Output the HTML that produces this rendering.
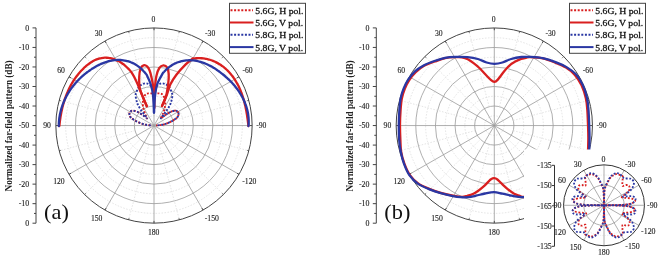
<!DOCTYPE html>
<html><head><meta charset="utf-8"><style>html,body{margin:0;padding:0;background:#fff;overflow:hidden}svg{display:block;will-change:transform}</style></head>
<body><svg width="660" height="258" viewBox="0 0 660 258">
<rect width="660" height="258" fill="#fff"/>
<line x1="36.00" y1="27.90" x2="36.00" y2="223.20" stroke="#444" stroke-width="1"/>
<line x1="32.50" y1="27.90" x2="36.00" y2="27.90" stroke="#444" stroke-width="1"/>
<text x="29.20" y="30.59" font-size="7.9" text-anchor="end" fill="#222" stroke="#222" stroke-width="0.12" font-family="Liberation Serif">0</text>
<line x1="34.00" y1="37.66" x2="36.00" y2="37.66" stroke="#444" stroke-width="1"/>
<line x1="32.50" y1="47.43" x2="36.00" y2="47.43" stroke="#444" stroke-width="1"/>
<text x="29.20" y="50.12" font-size="7.9" text-anchor="end" fill="#222" stroke="#222" stroke-width="0.12" font-family="Liberation Serif">-10</text>
<line x1="34.00" y1="57.19" x2="36.00" y2="57.19" stroke="#444" stroke-width="1"/>
<line x1="32.50" y1="66.96" x2="36.00" y2="66.96" stroke="#444" stroke-width="1"/>
<text x="29.20" y="69.65" font-size="7.9" text-anchor="end" fill="#222" stroke="#222" stroke-width="0.12" font-family="Liberation Serif">-20</text>
<line x1="34.00" y1="76.72" x2="36.00" y2="76.72" stroke="#444" stroke-width="1"/>
<line x1="32.50" y1="86.49" x2="36.00" y2="86.49" stroke="#444" stroke-width="1"/>
<text x="29.20" y="89.18" font-size="7.9" text-anchor="end" fill="#222" stroke="#222" stroke-width="0.12" font-family="Liberation Serif">-30</text>
<line x1="34.00" y1="96.25" x2="36.00" y2="96.25" stroke="#444" stroke-width="1"/>
<line x1="32.50" y1="106.02" x2="36.00" y2="106.02" stroke="#444" stroke-width="1"/>
<text x="29.20" y="108.71" font-size="7.9" text-anchor="end" fill="#222" stroke="#222" stroke-width="0.12" font-family="Liberation Serif">-40</text>
<line x1="34.00" y1="115.78" x2="36.00" y2="115.78" stroke="#444" stroke-width="1"/>
<line x1="32.50" y1="125.55" x2="36.00" y2="125.55" stroke="#444" stroke-width="1"/>
<text x="29.20" y="128.24" font-size="7.9" text-anchor="end" fill="#222" stroke="#222" stroke-width="0.12" font-family="Liberation Serif">-50</text>
<line x1="34.00" y1="135.31" x2="36.00" y2="135.31" stroke="#444" stroke-width="1"/>
<line x1="32.50" y1="145.08" x2="36.00" y2="145.08" stroke="#444" stroke-width="1"/>
<text x="29.20" y="147.77" font-size="7.9" text-anchor="end" fill="#222" stroke="#222" stroke-width="0.12" font-family="Liberation Serif">-40</text>
<line x1="34.00" y1="154.84" x2="36.00" y2="154.84" stroke="#444" stroke-width="1"/>
<line x1="32.50" y1="164.61" x2="36.00" y2="164.61" stroke="#444" stroke-width="1"/>
<text x="29.20" y="167.30" font-size="7.9" text-anchor="end" fill="#222" stroke="#222" stroke-width="0.12" font-family="Liberation Serif">-30</text>
<line x1="34.00" y1="174.37" x2="36.00" y2="174.37" stroke="#444" stroke-width="1"/>
<line x1="32.50" y1="184.14" x2="36.00" y2="184.14" stroke="#444" stroke-width="1"/>
<text x="29.20" y="186.83" font-size="7.9" text-anchor="end" fill="#222" stroke="#222" stroke-width="0.12" font-family="Liberation Serif">-20</text>
<line x1="34.00" y1="193.90" x2="36.00" y2="193.90" stroke="#444" stroke-width="1"/>
<line x1="32.50" y1="203.67" x2="36.00" y2="203.67" stroke="#444" stroke-width="1"/>
<text x="29.20" y="206.36" font-size="7.9" text-anchor="end" fill="#222" stroke="#222" stroke-width="0.12" font-family="Liberation Serif">-10</text>
<line x1="34.00" y1="213.43" x2="36.00" y2="213.43" stroke="#444" stroke-width="1"/>
<line x1="32.50" y1="223.20" x2="36.00" y2="223.20" stroke="#444" stroke-width="1"/>
<text x="29.20" y="225.89" font-size="7.9" text-anchor="end" fill="#222" stroke="#222" stroke-width="0.12" font-family="Liberation Serif">0</text>
<text transform="translate(12.20,125.90) rotate(-90) scale(0.93,1)" font-size="9.9" font-weight="bold" text-anchor="middle" fill="#222" font-family="Liberation Serif">Normalized far-field pattern (dB)</text>
<g transform="translate(154.00,125.55) scale(1,0.99440)">
<circle r="9.82" fill="none" stroke="#d8d8d8" stroke-width="0.7" stroke-dasharray="1.5,1.5" vector-effect="non-scaling-stroke"/>
<circle r="19.63" fill="none" stroke="#9a9a9a" stroke-width="0.8" vector-effect="non-scaling-stroke"/>
<circle r="29.45" fill="none" stroke="#d8d8d8" stroke-width="0.7" stroke-dasharray="1.5,1.5" vector-effect="non-scaling-stroke"/>
<circle r="39.26" fill="none" stroke="#9a9a9a" stroke-width="0.8" vector-effect="non-scaling-stroke"/>
<circle r="49.08" fill="none" stroke="#d8d8d8" stroke-width="0.7" stroke-dasharray="1.5,1.5" vector-effect="non-scaling-stroke"/>
<circle r="58.89" fill="none" stroke="#9a9a9a" stroke-width="0.8" vector-effect="non-scaling-stroke"/>
<circle r="68.71" fill="none" stroke="#d8d8d8" stroke-width="0.7" stroke-dasharray="1.5,1.5" vector-effect="non-scaling-stroke"/>
<circle r="78.52" fill="none" stroke="#9a9a9a" stroke-width="0.8" vector-effect="non-scaling-stroke"/>
<circle r="88.34" fill="none" stroke="#d8d8d8" stroke-width="0.7" stroke-dasharray="1.5,1.5" vector-effect="non-scaling-stroke"/>
<line x1="0" y1="0" x2="0.00" y2="-98.15" stroke="#9a9a9a" stroke-width="0.8" vector-effect="non-scaling-stroke"/>
<line x1="-5.08" y1="-18.96" x2="-25.40" y2="-94.81" stroke="#d8d8d8" stroke-width="0.7" stroke-dasharray="1.5,1.5" vector-effect="non-scaling-stroke"/>
<line x1="0" y1="0" x2="-49.07" y2="-85.00" stroke="#9a9a9a" stroke-width="0.8" vector-effect="non-scaling-stroke"/>
<line x1="-13.88" y1="-13.88" x2="-69.40" y2="-69.40" stroke="#d8d8d8" stroke-width="0.7" stroke-dasharray="1.5,1.5" vector-effect="non-scaling-stroke"/>
<line x1="0" y1="0" x2="-85.00" y2="-49.08" stroke="#9a9a9a" stroke-width="0.8" vector-effect="non-scaling-stroke"/>
<line x1="-18.96" y1="-5.08" x2="-94.81" y2="-25.40" stroke="#d8d8d8" stroke-width="0.7" stroke-dasharray="1.5,1.5" vector-effect="non-scaling-stroke"/>
<line x1="0" y1="0" x2="-98.15" y2="-0.00" stroke="#9a9a9a" stroke-width="0.8" vector-effect="non-scaling-stroke"/>
<line x1="-18.96" y1="5.08" x2="-94.81" y2="25.40" stroke="#d8d8d8" stroke-width="0.7" stroke-dasharray="1.5,1.5" vector-effect="non-scaling-stroke"/>
<line x1="0" y1="0" x2="-85.00" y2="49.07" stroke="#9a9a9a" stroke-width="0.8" vector-effect="non-scaling-stroke"/>
<line x1="-13.88" y1="13.88" x2="-69.40" y2="69.40" stroke="#d8d8d8" stroke-width="0.7" stroke-dasharray="1.5,1.5" vector-effect="non-scaling-stroke"/>
<line x1="0" y1="0" x2="-49.07" y2="85.00" stroke="#9a9a9a" stroke-width="0.8" vector-effect="non-scaling-stroke"/>
<line x1="-5.08" y1="18.96" x2="-25.40" y2="94.81" stroke="#d8d8d8" stroke-width="0.7" stroke-dasharray="1.5,1.5" vector-effect="non-scaling-stroke"/>
<line x1="0" y1="0" x2="-0.00" y2="98.15" stroke="#9a9a9a" stroke-width="0.8" vector-effect="non-scaling-stroke"/>
<line x1="5.08" y1="18.96" x2="25.40" y2="94.81" stroke="#d8d8d8" stroke-width="0.7" stroke-dasharray="1.5,1.5" vector-effect="non-scaling-stroke"/>
<line x1="0" y1="0" x2="49.08" y2="85.00" stroke="#9a9a9a" stroke-width="0.8" vector-effect="non-scaling-stroke"/>
<line x1="13.88" y1="13.88" x2="69.40" y2="69.40" stroke="#d8d8d8" stroke-width="0.7" stroke-dasharray="1.5,1.5" vector-effect="non-scaling-stroke"/>
<line x1="0" y1="0" x2="85.00" y2="49.08" stroke="#9a9a9a" stroke-width="0.8" vector-effect="non-scaling-stroke"/>
<line x1="18.96" y1="5.08" x2="94.81" y2="25.40" stroke="#d8d8d8" stroke-width="0.7" stroke-dasharray="1.5,1.5" vector-effect="non-scaling-stroke"/>
<line x1="0" y1="0" x2="98.15" y2="0.00" stroke="#9a9a9a" stroke-width="0.8" vector-effect="non-scaling-stroke"/>
<line x1="18.96" y1="-5.08" x2="94.81" y2="-25.40" stroke="#d8d8d8" stroke-width="0.7" stroke-dasharray="1.5,1.5" vector-effect="non-scaling-stroke"/>
<line x1="0" y1="0" x2="85.00" y2="-49.08" stroke="#9a9a9a" stroke-width="0.8" vector-effect="non-scaling-stroke"/>
<line x1="13.88" y1="-13.88" x2="69.40" y2="-69.40" stroke="#d8d8d8" stroke-width="0.7" stroke-dasharray="1.5,1.5" vector-effect="non-scaling-stroke"/>
<line x1="0" y1="0" x2="49.08" y2="-85.00" stroke="#9a9a9a" stroke-width="0.8" vector-effect="non-scaling-stroke"/>
<line x1="5.08" y1="-18.96" x2="25.40" y2="-94.81" stroke="#d8d8d8" stroke-width="0.7" stroke-dasharray="1.5,1.5" vector-effect="non-scaling-stroke"/>
<circle r="98.15" fill="none" stroke="#444" stroke-width="1" vector-effect="non-scaling-stroke"/>
<line x1="0.00" y1="-98.15" x2="0.00" y2="-95.85" stroke="#444" stroke-width="0.9" vector-effect="non-scaling-stroke"/>
<line x1="-25.40" y1="-94.81" x2="-24.99" y2="-93.26" stroke="#444" stroke-width="0.9" vector-effect="non-scaling-stroke"/>
<line x1="-49.07" y1="-85.00" x2="-47.92" y2="-83.01" stroke="#444" stroke-width="0.9" vector-effect="non-scaling-stroke"/>
<line x1="-69.40" y1="-69.40" x2="-68.27" y2="-68.27" stroke="#444" stroke-width="0.9" vector-effect="non-scaling-stroke"/>
<line x1="-85.00" y1="-49.08" x2="-83.01" y2="-47.93" stroke="#444" stroke-width="0.9" vector-effect="non-scaling-stroke"/>
<line x1="-94.81" y1="-25.40" x2="-93.26" y2="-24.99" stroke="#444" stroke-width="0.9" vector-effect="non-scaling-stroke"/>
<line x1="-98.15" y1="-0.00" x2="-95.85" y2="-0.00" stroke="#444" stroke-width="0.9" vector-effect="non-scaling-stroke"/>
<line x1="-94.81" y1="25.40" x2="-93.26" y2="24.99" stroke="#444" stroke-width="0.9" vector-effect="non-scaling-stroke"/>
<line x1="-85.00" y1="49.07" x2="-83.01" y2="47.92" stroke="#444" stroke-width="0.9" vector-effect="non-scaling-stroke"/>
<line x1="-69.40" y1="69.40" x2="-68.27" y2="68.27" stroke="#444" stroke-width="0.9" vector-effect="non-scaling-stroke"/>
<line x1="-49.07" y1="85.00" x2="-47.92" y2="83.01" stroke="#444" stroke-width="0.9" vector-effect="non-scaling-stroke"/>
<line x1="-25.40" y1="94.81" x2="-24.99" y2="93.26" stroke="#444" stroke-width="0.9" vector-effect="non-scaling-stroke"/>
<line x1="-0.00" y1="98.15" x2="-0.00" y2="95.85" stroke="#444" stroke-width="0.9" vector-effect="non-scaling-stroke"/>
<line x1="25.40" y1="94.81" x2="24.99" y2="93.26" stroke="#444" stroke-width="0.9" vector-effect="non-scaling-stroke"/>
<line x1="49.08" y1="85.00" x2="47.93" y2="83.01" stroke="#444" stroke-width="0.9" vector-effect="non-scaling-stroke"/>
<line x1="69.40" y1="69.40" x2="68.27" y2="68.27" stroke="#444" stroke-width="0.9" vector-effect="non-scaling-stroke"/>
<line x1="85.00" y1="49.08" x2="83.01" y2="47.93" stroke="#444" stroke-width="0.9" vector-effect="non-scaling-stroke"/>
<line x1="94.81" y1="25.40" x2="93.26" y2="24.99" stroke="#444" stroke-width="0.9" vector-effect="non-scaling-stroke"/>
<line x1="98.15" y1="0.00" x2="95.85" y2="0.00" stroke="#444" stroke-width="0.9" vector-effect="non-scaling-stroke"/>
<line x1="94.81" y1="-25.40" x2="93.26" y2="-24.99" stroke="#444" stroke-width="0.9" vector-effect="non-scaling-stroke"/>
<line x1="85.00" y1="-49.08" x2="83.01" y2="-47.93" stroke="#444" stroke-width="0.9" vector-effect="non-scaling-stroke"/>
<line x1="69.40" y1="-69.40" x2="68.27" y2="-68.27" stroke="#444" stroke-width="0.9" vector-effect="non-scaling-stroke"/>
<line x1="49.08" y1="-85.00" x2="47.93" y2="-83.01" stroke="#444" stroke-width="0.9" vector-effect="non-scaling-stroke"/>
<line x1="25.40" y1="-94.81" x2="24.99" y2="-93.26" stroke="#444" stroke-width="0.9" vector-effect="non-scaling-stroke"/>
</g>
<text x="153.30" y="21.62" font-size="7.7" text-anchor="middle" fill="#222" stroke="#222" stroke-width="0.12" font-family="Liberation Serif">0</text>
<text x="98.50" y="35.62" font-size="7.7" text-anchor="middle" fill="#222" stroke="#222" stroke-width="0.12" font-family="Liberation Serif">30</text>
<text x="61.00" y="72.52" font-size="7.7" text-anchor="middle" fill="#222" stroke="#222" stroke-width="0.12" font-family="Liberation Serif">60</text>
<text x="47.10" y="127.72" font-size="7.7" text-anchor="middle" fill="#222" stroke="#222" stroke-width="0.12" font-family="Liberation Serif">90</text>
<text x="58.90" y="183.72" font-size="7.7" text-anchor="middle" fill="#222" stroke="#222" stroke-width="0.12" font-family="Liberation Serif">120</text>
<text x="96.70" y="220.92" font-size="7.7" text-anchor="middle" fill="#222" stroke="#222" stroke-width="0.12" font-family="Liberation Serif">150</text>
<text x="153.70" y="234.52" font-size="7.7" text-anchor="middle" fill="#222" stroke="#222" stroke-width="0.12" font-family="Liberation Serif">180</text>
<text x="210.20" y="35.62" font-size="7.7" text-anchor="middle" fill="#222" stroke="#222" stroke-width="0.12" font-family="Liberation Serif">-30</text>
<text x="247.60" y="72.82" font-size="7.7" text-anchor="middle" fill="#222" stroke="#222" stroke-width="0.12" font-family="Liberation Serif">-60</text>
<text x="261.30" y="127.72" font-size="7.7" text-anchor="middle" fill="#222" stroke="#222" stroke-width="0.12" font-family="Liberation Serif">-90</text>
<text x="249.30" y="183.82" font-size="7.7" text-anchor="middle" fill="#222" stroke="#222" stroke-width="0.12" font-family="Liberation Serif">-120</text>
<text x="211.80" y="220.92" font-size="7.7" text-anchor="middle" fill="#222" stroke="#222" stroke-width="0.12" font-family="Liberation Serif">-150</text>
<text transform="translate(44.00,219.40) scale(1,0.94)" font-size="22.4" fill="#111" font-family="Liberation Serif">(a)</text>
<line x1="376.30" y1="27.90" x2="376.30" y2="223.20" stroke="#444" stroke-width="1"/>
<line x1="372.80" y1="27.90" x2="376.30" y2="27.90" stroke="#444" stroke-width="1"/>
<text x="369.50" y="30.59" font-size="7.9" text-anchor="end" fill="#222" stroke="#222" stroke-width="0.12" font-family="Liberation Serif">0</text>
<line x1="374.30" y1="37.66" x2="376.30" y2="37.66" stroke="#444" stroke-width="1"/>
<line x1="372.80" y1="47.43" x2="376.30" y2="47.43" stroke="#444" stroke-width="1"/>
<text x="369.50" y="50.12" font-size="7.9" text-anchor="end" fill="#222" stroke="#222" stroke-width="0.12" font-family="Liberation Serif">-10</text>
<line x1="374.30" y1="57.19" x2="376.30" y2="57.19" stroke="#444" stroke-width="1"/>
<line x1="372.80" y1="66.96" x2="376.30" y2="66.96" stroke="#444" stroke-width="1"/>
<text x="369.50" y="69.65" font-size="7.9" text-anchor="end" fill="#222" stroke="#222" stroke-width="0.12" font-family="Liberation Serif">-20</text>
<line x1="374.30" y1="76.72" x2="376.30" y2="76.72" stroke="#444" stroke-width="1"/>
<line x1="372.80" y1="86.49" x2="376.30" y2="86.49" stroke="#444" stroke-width="1"/>
<text x="369.50" y="89.18" font-size="7.9" text-anchor="end" fill="#222" stroke="#222" stroke-width="0.12" font-family="Liberation Serif">-30</text>
<line x1="374.30" y1="96.25" x2="376.30" y2="96.25" stroke="#444" stroke-width="1"/>
<line x1="372.80" y1="106.02" x2="376.30" y2="106.02" stroke="#444" stroke-width="1"/>
<text x="369.50" y="108.71" font-size="7.9" text-anchor="end" fill="#222" stroke="#222" stroke-width="0.12" font-family="Liberation Serif">-40</text>
<line x1="374.30" y1="115.78" x2="376.30" y2="115.78" stroke="#444" stroke-width="1"/>
<line x1="372.80" y1="125.55" x2="376.30" y2="125.55" stroke="#444" stroke-width="1"/>
<text x="369.50" y="128.24" font-size="7.9" text-anchor="end" fill="#222" stroke="#222" stroke-width="0.12" font-family="Liberation Serif">-50</text>
<line x1="374.30" y1="135.31" x2="376.30" y2="135.31" stroke="#444" stroke-width="1"/>
<line x1="372.80" y1="145.08" x2="376.30" y2="145.08" stroke="#444" stroke-width="1"/>
<text x="369.50" y="147.77" font-size="7.9" text-anchor="end" fill="#222" stroke="#222" stroke-width="0.12" font-family="Liberation Serif">-40</text>
<line x1="374.30" y1="154.84" x2="376.30" y2="154.84" stroke="#444" stroke-width="1"/>
<line x1="372.80" y1="164.61" x2="376.30" y2="164.61" stroke="#444" stroke-width="1"/>
<text x="369.50" y="167.30" font-size="7.9" text-anchor="end" fill="#222" stroke="#222" stroke-width="0.12" font-family="Liberation Serif">-30</text>
<line x1="374.30" y1="174.37" x2="376.30" y2="174.37" stroke="#444" stroke-width="1"/>
<line x1="372.80" y1="184.14" x2="376.30" y2="184.14" stroke="#444" stroke-width="1"/>
<text x="369.50" y="186.83" font-size="7.9" text-anchor="end" fill="#222" stroke="#222" stroke-width="0.12" font-family="Liberation Serif">-20</text>
<line x1="374.30" y1="193.90" x2="376.30" y2="193.90" stroke="#444" stroke-width="1"/>
<line x1="372.80" y1="203.67" x2="376.30" y2="203.67" stroke="#444" stroke-width="1"/>
<text x="369.50" y="206.36" font-size="7.9" text-anchor="end" fill="#222" stroke="#222" stroke-width="0.12" font-family="Liberation Serif">-10</text>
<line x1="374.30" y1="213.43" x2="376.30" y2="213.43" stroke="#444" stroke-width="1"/>
<line x1="372.80" y1="223.20" x2="376.30" y2="223.20" stroke="#444" stroke-width="1"/>
<text x="369.50" y="225.89" font-size="7.9" text-anchor="end" fill="#222" stroke="#222" stroke-width="0.12" font-family="Liberation Serif">0</text>
<text transform="translate(352.50,125.90) rotate(-90) scale(0.93,1)" font-size="9.9" font-weight="bold" text-anchor="middle" fill="#222" font-family="Liberation Serif">Normalized far-field pattern (dB)</text>
<g transform="translate(494.30,125.55) scale(1,0.99440)">
<circle r="9.82" fill="none" stroke="#d8d8d8" stroke-width="0.7" stroke-dasharray="1.5,1.5" vector-effect="non-scaling-stroke"/>
<circle r="19.63" fill="none" stroke="#9a9a9a" stroke-width="0.8" vector-effect="non-scaling-stroke"/>
<circle r="29.45" fill="none" stroke="#d8d8d8" stroke-width="0.7" stroke-dasharray="1.5,1.5" vector-effect="non-scaling-stroke"/>
<circle r="39.26" fill="none" stroke="#9a9a9a" stroke-width="0.8" vector-effect="non-scaling-stroke"/>
<circle r="49.08" fill="none" stroke="#d8d8d8" stroke-width="0.7" stroke-dasharray="1.5,1.5" vector-effect="non-scaling-stroke"/>
<circle r="58.89" fill="none" stroke="#9a9a9a" stroke-width="0.8" vector-effect="non-scaling-stroke"/>
<circle r="68.71" fill="none" stroke="#d8d8d8" stroke-width="0.7" stroke-dasharray="1.5,1.5" vector-effect="non-scaling-stroke"/>
<circle r="78.52" fill="none" stroke="#9a9a9a" stroke-width="0.8" vector-effect="non-scaling-stroke"/>
<circle r="88.34" fill="none" stroke="#d8d8d8" stroke-width="0.7" stroke-dasharray="1.5,1.5" vector-effect="non-scaling-stroke"/>
<line x1="0" y1="0" x2="0.00" y2="-98.15" stroke="#9a9a9a" stroke-width="0.8" vector-effect="non-scaling-stroke"/>
<line x1="-5.08" y1="-18.96" x2="-25.40" y2="-94.81" stroke="#d8d8d8" stroke-width="0.7" stroke-dasharray="1.5,1.5" vector-effect="non-scaling-stroke"/>
<line x1="0" y1="0" x2="-49.07" y2="-85.00" stroke="#9a9a9a" stroke-width="0.8" vector-effect="non-scaling-stroke"/>
<line x1="-13.88" y1="-13.88" x2="-69.40" y2="-69.40" stroke="#d8d8d8" stroke-width="0.7" stroke-dasharray="1.5,1.5" vector-effect="non-scaling-stroke"/>
<line x1="0" y1="0" x2="-85.00" y2="-49.08" stroke="#9a9a9a" stroke-width="0.8" vector-effect="non-scaling-stroke"/>
<line x1="-18.96" y1="-5.08" x2="-94.81" y2="-25.40" stroke="#d8d8d8" stroke-width="0.7" stroke-dasharray="1.5,1.5" vector-effect="non-scaling-stroke"/>
<line x1="0" y1="0" x2="-98.15" y2="-0.00" stroke="#9a9a9a" stroke-width="0.8" vector-effect="non-scaling-stroke"/>
<line x1="-18.96" y1="5.08" x2="-94.81" y2="25.40" stroke="#d8d8d8" stroke-width="0.7" stroke-dasharray="1.5,1.5" vector-effect="non-scaling-stroke"/>
<line x1="0" y1="0" x2="-85.00" y2="49.07" stroke="#9a9a9a" stroke-width="0.8" vector-effect="non-scaling-stroke"/>
<line x1="-13.88" y1="13.88" x2="-69.40" y2="69.40" stroke="#d8d8d8" stroke-width="0.7" stroke-dasharray="1.5,1.5" vector-effect="non-scaling-stroke"/>
<line x1="0" y1="0" x2="-49.07" y2="85.00" stroke="#9a9a9a" stroke-width="0.8" vector-effect="non-scaling-stroke"/>
<line x1="-5.08" y1="18.96" x2="-25.40" y2="94.81" stroke="#d8d8d8" stroke-width="0.7" stroke-dasharray="1.5,1.5" vector-effect="non-scaling-stroke"/>
<line x1="0" y1="0" x2="-0.00" y2="98.15" stroke="#9a9a9a" stroke-width="0.8" vector-effect="non-scaling-stroke"/>
<line x1="5.08" y1="18.96" x2="25.40" y2="94.81" stroke="#d8d8d8" stroke-width="0.7" stroke-dasharray="1.5,1.5" vector-effect="non-scaling-stroke"/>
<line x1="0" y1="0" x2="49.08" y2="85.00" stroke="#9a9a9a" stroke-width="0.8" vector-effect="non-scaling-stroke"/>
<line x1="13.88" y1="13.88" x2="69.40" y2="69.40" stroke="#d8d8d8" stroke-width="0.7" stroke-dasharray="1.5,1.5" vector-effect="non-scaling-stroke"/>
<line x1="0" y1="0" x2="85.00" y2="49.08" stroke="#9a9a9a" stroke-width="0.8" vector-effect="non-scaling-stroke"/>
<line x1="18.96" y1="5.08" x2="94.81" y2="25.40" stroke="#d8d8d8" stroke-width="0.7" stroke-dasharray="1.5,1.5" vector-effect="non-scaling-stroke"/>
<line x1="0" y1="0" x2="98.15" y2="0.00" stroke="#9a9a9a" stroke-width="0.8" vector-effect="non-scaling-stroke"/>
<line x1="18.96" y1="-5.08" x2="94.81" y2="-25.40" stroke="#d8d8d8" stroke-width="0.7" stroke-dasharray="1.5,1.5" vector-effect="non-scaling-stroke"/>
<line x1="0" y1="0" x2="85.00" y2="-49.08" stroke="#9a9a9a" stroke-width="0.8" vector-effect="non-scaling-stroke"/>
<line x1="13.88" y1="-13.88" x2="69.40" y2="-69.40" stroke="#d8d8d8" stroke-width="0.7" stroke-dasharray="1.5,1.5" vector-effect="non-scaling-stroke"/>
<line x1="0" y1="0" x2="49.08" y2="-85.00" stroke="#9a9a9a" stroke-width="0.8" vector-effect="non-scaling-stroke"/>
<line x1="5.08" y1="-18.96" x2="25.40" y2="-94.81" stroke="#d8d8d8" stroke-width="0.7" stroke-dasharray="1.5,1.5" vector-effect="non-scaling-stroke"/>
<circle r="98.15" fill="none" stroke="#444" stroke-width="1" vector-effect="non-scaling-stroke"/>
<line x1="0.00" y1="-98.15" x2="0.00" y2="-95.85" stroke="#444" stroke-width="0.9" vector-effect="non-scaling-stroke"/>
<line x1="-25.40" y1="-94.81" x2="-24.99" y2="-93.26" stroke="#444" stroke-width="0.9" vector-effect="non-scaling-stroke"/>
<line x1="-49.07" y1="-85.00" x2="-47.92" y2="-83.01" stroke="#444" stroke-width="0.9" vector-effect="non-scaling-stroke"/>
<line x1="-69.40" y1="-69.40" x2="-68.27" y2="-68.27" stroke="#444" stroke-width="0.9" vector-effect="non-scaling-stroke"/>
<line x1="-85.00" y1="-49.08" x2="-83.01" y2="-47.93" stroke="#444" stroke-width="0.9" vector-effect="non-scaling-stroke"/>
<line x1="-94.81" y1="-25.40" x2="-93.26" y2="-24.99" stroke="#444" stroke-width="0.9" vector-effect="non-scaling-stroke"/>
<line x1="-98.15" y1="-0.00" x2="-95.85" y2="-0.00" stroke="#444" stroke-width="0.9" vector-effect="non-scaling-stroke"/>
<line x1="-94.81" y1="25.40" x2="-93.26" y2="24.99" stroke="#444" stroke-width="0.9" vector-effect="non-scaling-stroke"/>
<line x1="-85.00" y1="49.07" x2="-83.01" y2="47.92" stroke="#444" stroke-width="0.9" vector-effect="non-scaling-stroke"/>
<line x1="-69.40" y1="69.40" x2="-68.27" y2="68.27" stroke="#444" stroke-width="0.9" vector-effect="non-scaling-stroke"/>
<line x1="-49.07" y1="85.00" x2="-47.92" y2="83.01" stroke="#444" stroke-width="0.9" vector-effect="non-scaling-stroke"/>
<line x1="-25.40" y1="94.81" x2="-24.99" y2="93.26" stroke="#444" stroke-width="0.9" vector-effect="non-scaling-stroke"/>
<line x1="-0.00" y1="98.15" x2="-0.00" y2="95.85" stroke="#444" stroke-width="0.9" vector-effect="non-scaling-stroke"/>
<line x1="25.40" y1="94.81" x2="24.99" y2="93.26" stroke="#444" stroke-width="0.9" vector-effect="non-scaling-stroke"/>
<line x1="49.08" y1="85.00" x2="47.93" y2="83.01" stroke="#444" stroke-width="0.9" vector-effect="non-scaling-stroke"/>
<line x1="69.40" y1="69.40" x2="68.27" y2="68.27" stroke="#444" stroke-width="0.9" vector-effect="non-scaling-stroke"/>
<line x1="85.00" y1="49.08" x2="83.01" y2="47.93" stroke="#444" stroke-width="0.9" vector-effect="non-scaling-stroke"/>
<line x1="94.81" y1="25.40" x2="93.26" y2="24.99" stroke="#444" stroke-width="0.9" vector-effect="non-scaling-stroke"/>
<line x1="98.15" y1="0.00" x2="95.85" y2="0.00" stroke="#444" stroke-width="0.9" vector-effect="non-scaling-stroke"/>
<line x1="94.81" y1="-25.40" x2="93.26" y2="-24.99" stroke="#444" stroke-width="0.9" vector-effect="non-scaling-stroke"/>
<line x1="85.00" y1="-49.08" x2="83.01" y2="-47.93" stroke="#444" stroke-width="0.9" vector-effect="non-scaling-stroke"/>
<line x1="69.40" y1="-69.40" x2="68.27" y2="-68.27" stroke="#444" stroke-width="0.9" vector-effect="non-scaling-stroke"/>
<line x1="49.08" y1="-85.00" x2="47.93" y2="-83.01" stroke="#444" stroke-width="0.9" vector-effect="non-scaling-stroke"/>
<line x1="25.40" y1="-94.81" x2="24.99" y2="-93.26" stroke="#444" stroke-width="0.9" vector-effect="non-scaling-stroke"/>
</g>
<text x="493.60" y="21.62" font-size="7.7" text-anchor="middle" fill="#222" stroke="#222" stroke-width="0.12" font-family="Liberation Serif">0</text>
<text x="438.80" y="35.62" font-size="7.7" text-anchor="middle" fill="#222" stroke="#222" stroke-width="0.12" font-family="Liberation Serif">30</text>
<text x="401.30" y="72.52" font-size="7.7" text-anchor="middle" fill="#222" stroke="#222" stroke-width="0.12" font-family="Liberation Serif">60</text>
<text x="387.40" y="127.72" font-size="7.7" text-anchor="middle" fill="#222" stroke="#222" stroke-width="0.12" font-family="Liberation Serif">90</text>
<text x="399.20" y="183.72" font-size="7.7" text-anchor="middle" fill="#222" stroke="#222" stroke-width="0.12" font-family="Liberation Serif">120</text>
<text x="437.00" y="220.92" font-size="7.7" text-anchor="middle" fill="#222" stroke="#222" stroke-width="0.12" font-family="Liberation Serif">150</text>
<text x="494.00" y="234.52" font-size="7.7" text-anchor="middle" fill="#222" stroke="#222" stroke-width="0.12" font-family="Liberation Serif">180</text>
<text x="550.50" y="35.62" font-size="7.7" text-anchor="middle" fill="#222" stroke="#222" stroke-width="0.12" font-family="Liberation Serif">-30</text>
<text x="587.90" y="72.82" font-size="7.7" text-anchor="middle" fill="#222" stroke="#222" stroke-width="0.12" font-family="Liberation Serif">-60</text>
<text x="601.60" y="127.72" font-size="7.7" text-anchor="middle" fill="#222" stroke="#222" stroke-width="0.12" font-family="Liberation Serif">-90</text>
<text x="589.60" y="183.82" font-size="7.7" text-anchor="middle" fill="#222" stroke="#222" stroke-width="0.12" font-family="Liberation Serif">-120</text>
<text x="552.10" y="220.92" font-size="7.7" text-anchor="middle" fill="#222" stroke="#222" stroke-width="0.12" font-family="Liberation Serif">-150</text>
<text transform="translate(384.30,219.40) scale(1,0.94)" font-size="22.4" fill="#111" font-family="Liberation Serif">(b)</text>
<path d="M156.00,125.50 C156.99,125.38 160.01,125.21 161.97,124.80 C163.93,124.40 165.90,123.82 167.79,123.07 C169.68,122.32 171.76,121.25 173.32,120.32 C174.88,119.40 176.32,118.39 177.17,117.52 C178.01,116.66 178.17,115.90 178.39,115.15 C178.62,114.39 178.67,113.63 178.50,113.02 C178.34,112.40 177.93,111.84 177.40,111.44 C176.87,111.03 176.35,110.55 175.30,110.59 C174.25,110.62 172.54,111.07 171.10,111.65 C169.65,112.24 167.92,113.32 166.63,114.12 C165.34,114.93 164.30,115.77 163.35,116.47 C162.40,117.17 161.30,118.19 160.95,118.31 C160.59,118.43 160.94,117.84 161.22,117.20 C161.50,116.56 162.14,115.57 162.62,114.47 C163.09,113.36 163.67,111.91 164.07,110.58 C164.46,109.24 164.81,107.78 165.00,106.45 C165.19,105.11 165.23,103.81 165.18,102.58 C165.12,101.35 164.94,100.17 164.68,99.08 C164.41,97.98 164.05,96.85 163.58,96.02 C163.11,95.18 162.49,94.50 161.84,94.06 C161.19,93.63 160.50,93.50 159.66,93.40 C158.82,93.29 157.75,93.37 156.81,93.42 C155.86,93.47 154.94,93.70 154.00,93.70 C153.06,93.70 152.14,93.47 151.19,93.42 C150.25,93.37 149.18,93.29 148.34,93.40 C147.50,93.50 146.81,93.63 146.16,94.06 C145.51,94.50 144.89,95.18 144.42,96.02 C143.95,96.85 143.59,97.98 143.32,99.08 C143.06,100.17 142.88,101.35 142.82,102.58 C142.77,103.81 142.81,105.11 143.00,106.45 C143.19,107.78 143.54,109.24 143.93,110.58 C144.33,111.91 144.91,113.36 145.38,114.47 C145.86,115.57 146.50,116.56 146.78,117.20 C147.06,117.84 147.41,118.43 147.05,118.31 C146.70,118.19 145.60,117.17 144.65,116.47 C143.70,115.77 142.66,114.93 141.37,114.12 C140.08,113.32 138.35,112.24 136.90,111.65 C135.46,111.07 133.75,110.62 132.70,110.59 C131.65,110.55 131.13,111.03 130.60,111.44 C130.07,111.84 129.66,112.40 129.50,113.02 C129.33,113.63 129.38,114.39 129.61,115.15 C129.83,115.90 129.99,116.66 130.83,117.52 C131.68,118.39 133.12,119.40 134.68,120.32 C136.24,121.25 138.32,122.32 140.21,123.07 C142.10,123.82 144.07,124.40 146.03,124.80 C147.99,125.21 151.01,125.38 152.00,125.50" fill="none" stroke="#d91f1f" stroke-width="1.9" stroke-dasharray="1.90,1.60" stroke-dashoffset="0"/>
<path d="M156.00,125.50 C156.99,125.38 160.01,125.21 161.97,124.80 C163.93,124.40 165.90,123.82 167.79,123.07 C169.68,122.32 171.76,121.25 173.32,120.32 C174.88,119.40 176.32,118.39 177.17,117.52 C178.01,116.66 178.17,115.90 178.39,115.15 C178.62,114.39 178.67,113.63 178.50,113.02 C178.34,112.40 177.93,111.84 177.40,111.44 C176.87,111.03 176.35,110.55 175.30,110.59 C174.25,110.62 172.54,111.07 171.10,111.65 C169.65,112.24 167.92,113.32 166.63,114.12 C165.34,114.93 164.30,115.77 163.35,116.47 C162.40,117.17 161.27,118.15 160.95,118.31 C160.63,118.46 161.04,117.94 161.43,117.39 C161.82,116.84 162.57,115.94 163.28,115.01 C163.99,114.09 164.90,112.89 165.69,111.81 C166.48,110.73 167.27,109.66 167.99,108.52 C168.71,107.39 169.50,106.09 170.01,105.01 C170.52,103.93 170.73,103.05 171.05,102.04 C171.36,101.03 171.67,100.16 171.89,98.97 C172.12,97.78 172.44,96.00 172.39,94.90 C172.34,93.80 171.96,93.38 171.61,92.39 C171.25,91.40 170.81,90.02 170.27,88.96 C169.73,87.90 169.22,86.87 168.36,86.03 C167.51,85.20 166.28,84.41 165.13,83.97 C163.97,83.52 162.70,83.15 161.43,83.35 C160.17,83.55 158.77,84.63 157.53,85.15 C156.29,85.68 155.18,86.50 154.00,86.50 C152.82,86.50 151.71,85.68 150.47,85.15 C149.23,84.63 147.83,83.55 146.57,83.35 C145.30,83.15 144.03,83.52 142.87,83.97 C141.72,84.41 140.49,85.20 139.64,86.03 C138.78,86.87 138.27,87.90 137.73,88.96 C137.19,90.02 136.75,91.40 136.39,92.39 C136.04,93.38 135.66,93.80 135.61,94.90 C135.56,96.00 135.88,97.78 136.11,98.97 C136.33,100.16 136.64,101.03 136.95,102.04 C137.27,103.05 137.48,103.93 137.99,105.01 C138.50,106.09 139.29,107.39 140.01,108.52 C140.73,109.66 141.52,110.73 142.31,111.81 C143.10,112.89 144.01,114.09 144.72,115.01 C145.43,115.94 146.18,116.84 146.57,117.39 C146.96,117.94 147.37,118.46 147.05,118.31 C146.73,118.15 145.60,117.17 144.65,116.47 C143.70,115.77 142.66,114.93 141.37,114.12 C140.08,113.32 138.35,112.24 136.90,111.65 C135.46,111.07 133.75,110.62 132.70,110.59 C131.65,110.55 131.13,111.03 130.60,111.44 C130.07,111.84 129.66,112.40 129.50,113.02 C129.33,113.63 129.38,114.39 129.61,115.15 C129.83,115.90 129.99,116.66 130.83,117.52 C131.68,118.39 133.12,119.40 134.68,120.32 C136.24,121.25 138.32,122.32 140.21,123.07 C142.10,123.82 144.07,124.40 146.03,124.80 C147.99,125.21 151.01,125.38 152.00,125.50" fill="none" stroke="#2a37a3" stroke-width="1.9" stroke-dasharray="1.90,1.60" stroke-dashoffset="1.75"/>
<path d="M59.38,126.00 C59.39,125.89 59.41,125.73 59.45,125.35 C59.48,124.97 59.56,124.25 59.62,123.70 C59.68,123.15 59.74,122.61 59.81,122.06 C59.87,121.51 59.94,120.97 60.01,120.42 C60.08,119.88 60.16,119.34 60.24,118.79 C60.32,118.25 60.40,117.71 60.48,117.17 C60.57,116.63 60.66,116.09 60.75,115.55 C60.84,115.01 60.94,114.47 61.04,113.94 C61.14,113.40 61.24,112.86 61.35,112.33 C61.45,111.79 61.56,111.26 61.68,110.73 C61.79,110.19 61.91,109.66 62.03,109.13 C62.15,108.60 62.27,108.07 62.40,107.54 C62.53,107.02 62.66,106.49 62.80,105.96 C62.94,105.44 63.08,104.91 63.22,104.39 C63.37,103.87 63.51,103.34 63.67,102.82 C63.82,102.30 63.98,101.79 64.14,101.27 C64.30,100.75 64.46,100.23 64.63,99.72 C64.80,99.21 64.97,98.69 65.15,98.18 C65.33,97.67 65.51,97.16 65.70,96.65 C65.89,96.15 66.08,95.64 66.27,95.14 C66.47,94.63 66.67,94.13 66.87,93.63 C67.08,93.13 67.28,92.63 67.50,92.14 C67.71,91.64 67.93,91.15 68.15,90.66 C68.37,90.16 68.60,89.68 68.83,89.19 C69.06,88.70 69.30,88.22 69.54,87.74 C69.78,87.25 70.03,86.77 70.28,86.30 C70.53,85.82 70.79,85.35 71.05,84.88 C71.31,84.41 71.57,83.94 71.84,83.47 C72.11,83.01 72.38,82.54 72.66,82.09 C72.94,81.63 73.23,81.17 73.51,80.72 C73.80,80.27 74.10,79.82 74.39,79.37 C74.69,78.93 75.00,78.48 75.30,78.04 C75.61,77.61 75.93,77.17 76.24,76.74 C76.56,76.31 76.88,75.88 77.21,75.46 C77.54,75.03 77.87,74.62 78.21,74.20 C78.54,73.79 78.88,73.37 79.23,72.97 C79.58,72.56 79.93,72.16 80.28,71.76 C80.64,71.36 81.00,70.97 81.36,70.58 C81.73,70.19 82.10,69.81 82.47,69.43 C82.85,69.05 83.23,68.68 83.61,68.31 C83.99,67.94 84.38,67.58 84.77,67.22 C85.16,66.87 85.56,66.51 85.96,66.17 C86.36,65.82 86.77,65.48 87.18,65.14 C87.59,64.81 88.00,64.48 88.42,64.15 C88.85,63.83 89.27,63.52 89.70,63.21 C90.13,62.90 90.57,62.60 91.02,62.32 C91.46,62.03 91.91,61.75 92.37,61.48 C92.83,61.21 93.29,60.95 93.77,60.70 C94.24,60.45 94.72,60.22 95.21,60.00 C95.70,59.77 96.19,59.56 96.70,59.37 C97.20,59.18 97.72,59.00 98.24,58.83 C98.76,58.67 99.29,58.52 99.83,58.39 C100.37,58.26 100.92,58.14 101.47,58.05 C102.03,57.95 102.59,57.87 103.17,57.82 C103.74,57.76 104.32,57.72 104.91,57.71 C105.50,57.69 106.10,57.70 106.71,57.73 C107.32,57.76 107.93,57.81 108.55,57.89 C109.18,57.97 109.81,58.07 110.45,58.20 C111.09,58.33 111.73,58.48 112.39,58.67 C113.04,58.85 113.70,59.06 114.37,59.30 C115.03,59.54 115.71,59.81 116.39,60.11 C117.07,60.41 117.75,60.74 118.44,61.11 C119.13,61.47 119.83,61.87 120.52,62.30 C121.22,62.73 121.93,63.19 122.63,63.69 C123.34,64.20 123.78,64.44 124.76,65.30 C125.74,66.17 127.29,67.60 128.50,68.90 C129.71,70.20 130.73,71.13 132.00,73.10 C133.27,75.07 134.55,77.38 136.10,80.70 C137.65,84.02 139.52,88.75 141.30,93.00 C143.08,97.25 145.88,104.00 146.80,106.20" fill="none" stroke="#d91f1f" stroke-width="2.3" stroke-linejoin="round" stroke-linecap="round" />
<path d="M146.80,106.20 C145.70,103.50 141.47,94.87 140.20,90.00 C138.93,85.13 139.12,80.62 139.20,77.00 C139.28,73.38 139.97,70.25 140.70,68.30 C141.43,66.35 142.53,65.62 143.60,65.30 C144.67,64.98 146.10,65.53 147.10,66.40 C148.10,67.27 148.87,68.67 149.60,70.50 C150.33,72.33 150.90,74.65 151.50,77.40 C152.10,80.15 152.78,83.23 153.20,87.00 C153.62,90.77 153.83,96.50 154.00,100.00 C154.17,103.50 154.17,106.67 154.20,108.00" fill="none" stroke="#d91f1f" stroke-width="2.3" stroke-linejoin="round" stroke-linecap="round" />
<path d="M154.20,108.00 C154.22,106.67 154.18,103.33 154.30,100.00 C154.42,96.67 154.55,92.00 154.90,88.00 C155.25,84.00 155.67,79.33 156.40,76.00 C157.13,72.67 158.13,69.78 159.30,68.00 C160.47,66.22 162.08,65.38 163.40,65.30 C164.72,65.22 166.32,66.05 167.20,67.50 C168.08,68.95 168.52,71.42 168.70,74.00 C168.88,76.58 168.70,79.50 168.30,83.00 C167.90,86.50 167.35,91.17 166.30,95.00 C165.25,98.83 162.72,104.17 162.00,106.00" fill="none" stroke="#d91f1f" stroke-width="2.3" stroke-linejoin="round" stroke-linecap="round" />
<path d="M162.00,106.00 C162.80,104.17 165.42,98.57 166.80,95.00 C168.18,91.43 168.70,87.97 170.30,84.60 C171.90,81.23 173.83,78.17 176.40,74.80 C178.97,71.43 183.00,67.08 185.70,64.40 C188.40,61.72 191.39,59.69 192.62,58.73 C193.85,57.77 192.71,58.71 193.07,58.65 C193.43,58.60 194.23,58.48 194.80,58.41 C195.38,58.34 195.95,58.29 196.52,58.25 C197.10,58.21 197.67,58.18 198.24,58.17 C198.81,58.15 199.38,58.15 199.94,58.17 C200.51,58.18 201.07,58.21 201.63,58.25 C202.19,58.28 202.75,58.34 203.30,58.40 C203.85,58.46 204.40,58.54 204.95,58.63 C205.50,58.72 206.04,58.82 206.58,58.93 C207.12,59.04 207.66,59.17 208.19,59.30 C208.73,59.44 209.25,59.58 209.78,59.74 C210.30,59.90 210.82,60.07 211.34,60.25 C211.85,60.43 212.36,60.62 212.87,60.81 C213.38,61.01 213.88,61.22 214.37,61.44 C214.87,61.66 215.36,61.89 215.85,62.13 C216.33,62.37 216.82,62.62 217.29,62.88 C217.77,63.14 218.24,63.40 218.70,63.68 C219.17,63.96 219.63,64.24 220.08,64.53 C220.53,64.83 220.98,65.13 221.42,65.44 C221.87,65.75 222.30,66.07 222.73,66.39 C223.16,66.72 223.59,67.05 224.01,67.39 C224.43,67.73 224.84,68.08 225.25,68.43 C225.65,68.79 226.05,69.15 226.45,69.52 C226.84,69.88 227.23,70.26 227.61,70.64 C228.00,71.02 228.37,71.41 228.74,71.80 C229.11,72.20 229.48,72.60 229.83,73.00 C230.19,73.41 230.54,73.82 230.89,74.23 C231.23,74.65 231.57,75.07 231.90,75.50 C232.24,75.92 232.56,76.35 232.88,76.79 C233.20,77.23 233.52,77.67 233.83,78.11 C234.13,78.56 234.44,79.01 234.73,79.46 C235.03,79.91 235.32,80.37 235.60,80.83 C235.89,81.30 236.16,81.76 236.43,82.23 C236.71,82.70 236.97,83.17 237.23,83.65 C237.49,84.12 237.75,84.60 237.99,85.09 C238.24,85.57 238.49,86.05 238.72,86.54 C238.96,87.03 239.19,87.52 239.42,88.01 C239.64,88.51 239.86,89.00 240.08,89.50 C240.29,90.00 240.50,90.50 240.71,91.00 C240.91,91.51 241.11,92.01 241.30,92.52 C241.50,93.03 241.69,93.54 241.87,94.05 C242.05,94.56 242.23,95.07 242.41,95.59 C242.58,96.10 242.75,96.62 242.92,97.13 C243.08,97.65 243.24,98.17 243.40,98.69 C243.55,99.21 243.70,99.73 243.85,100.25 C244.00,100.78 244.14,101.30 244.28,101.83 C244.42,102.35 244.55,102.88 244.68,103.40 C244.81,103.93 244.94,104.46 245.06,104.99 C245.18,105.52 245.30,106.05 245.42,106.58 C245.54,107.11 245.65,107.64 245.76,108.17 C245.87,108.70 245.97,109.24 246.07,109.77 C246.18,110.30 246.28,110.84 246.37,111.37 C246.47,111.91 246.56,112.45 246.65,112.98 C246.74,113.52 246.83,114.06 246.92,114.59 C247.00,115.13 247.09,115.67 247.17,116.21 C247.25,116.75 247.33,117.29 247.40,117.83 C247.48,118.37 247.55,118.91 247.62,119.45 C247.70,120.00 247.77,120.54 247.84,121.08 C247.90,121.63 247.97,122.17 248.04,122.72 C248.10,123.26 248.17,123.81 248.23,124.36 C248.29,124.91 248.38,125.73 248.41,126.00" fill="none" stroke="#d91f1f" stroke-width="2.3" stroke-linejoin="round" stroke-linecap="round" />
<path d="M58.78,126.00 C58.78,125.97 58.77,126.11 58.78,125.80 C58.79,125.49 58.80,124.69 58.81,124.14 C58.83,123.58 58.86,123.03 58.90,122.48 C58.93,121.92 58.97,121.37 59.02,120.82 C59.07,120.27 59.13,119.72 59.20,119.17 C59.26,118.62 59.33,118.07 59.41,117.52 C59.49,116.97 59.58,116.43 59.67,115.88 C59.77,115.34 59.87,114.79 59.98,114.25 C60.08,113.71 60.20,113.17 60.32,112.63 C60.45,112.09 60.57,111.56 60.71,111.02 C60.85,110.49 60.99,109.96 61.14,109.43 C61.29,108.89 61.45,108.37 61.61,107.84 C61.77,107.31 61.94,106.79 62.12,106.27 C62.30,105.75 62.48,105.23 62.67,104.71 C62.86,104.20 63.05,103.69 63.26,103.18 C63.46,102.67 63.67,102.16 63.88,101.65 C64.09,101.15 64.31,100.65 64.54,100.15 C64.77,99.65 65.00,99.16 65.24,98.66 C65.47,98.17 65.72,97.68 65.97,97.20 C66.21,96.71 66.47,96.23 66.73,95.75 C66.99,95.28 67.25,94.80 67.53,94.33 C67.80,93.86 68.07,93.39 68.35,92.93 C68.63,92.47 68.92,92.01 69.21,91.55 C69.50,91.09 69.80,90.64 70.10,90.19 C70.40,89.75 70.71,89.30 71.02,88.86 C71.33,88.42 71.64,87.99 71.96,87.56 C72.28,87.12 72.60,86.70 72.93,86.27 C73.26,85.85 73.59,85.43 73.93,85.02 C74.26,84.60 74.60,84.19 74.95,83.78 C75.29,83.38 75.64,82.98 75.99,82.58 C76.35,82.18 76.70,81.79 77.06,81.40 C77.42,81.01 77.78,80.63 78.15,80.25 C78.52,79.87 78.89,79.49 79.26,79.12 C79.63,78.75 80.01,78.38 80.39,78.02 C80.77,77.66 81.15,77.30 81.54,76.95 C81.92,76.60 82.31,76.25 82.70,75.91 C83.10,75.57 83.49,75.23 83.89,74.89 C84.28,74.56 84.68,74.23 85.08,73.90 C85.49,73.58 85.89,73.26 86.30,72.94 C86.70,72.63 87.11,72.32 87.52,72.01 C87.93,71.70 88.35,71.40 88.76,71.10 C89.18,70.81 89.59,70.51 90.01,70.23 C90.43,69.94 90.85,69.65 91.28,69.38 C91.70,69.10 92.12,68.82 92.55,68.55 C92.97,68.28 93.40,68.02 93.83,67.76 C94.26,67.49 94.69,67.24 95.12,66.99 C95.55,66.74 95.99,66.49 96.43,66.25 C96.86,66.01 97.30,65.77 97.74,65.55 C98.18,65.32 98.62,65.09 99.07,64.87 C99.51,64.65 99.96,64.44 100.41,64.24 C100.86,64.03 101.31,63.83 101.76,63.63 C102.21,63.44 102.67,63.25 103.12,63.07 C103.58,62.89 104.04,62.72 104.50,62.55 C104.96,62.38 105.42,62.22 105.89,62.07 C106.36,61.92 106.82,61.77 107.29,61.63 C107.76,61.49 108.23,61.36 108.71,61.24 C109.18,61.12 109.65,61.00 110.13,60.90 C110.61,60.79 111.09,60.69 111.57,60.60 C112.05,60.51 112.53,60.43 113.01,60.36 C113.50,60.29 113.98,60.23 114.47,60.17 C114.96,60.12 115.44,60.08 115.93,60.04 C116.42,60.01 116.91,59.98 117.41,59.97 C117.90,59.95 118.39,59.95 118.88,59.95 C119.38,59.96 119.87,59.97 120.37,60.00 C120.86,60.02 121.36,60.06 121.85,60.11 C122.35,60.16 122.85,60.21 123.34,60.28 C123.84,60.35 124.33,60.44 124.83,60.53 C125.33,60.62 125.82,60.73 126.32,60.84 C126.81,60.96 127.31,61.09 127.80,61.23 C128.29,61.37 128.79,61.52 129.28,61.69 C129.77,61.85 130.26,62.03 130.75,62.22 C131.23,62.41 131.72,62.62 132.20,62.83 C132.69,63.05 133.17,63.28 133.65,63.53 C134.13,63.77 134.61,64.03 135.08,64.30 C135.55,64.57 136.02,64.85 136.49,65.15 C136.96,65.45 137.42,65.76 137.88,66.09 C138.34,66.42 138.80,66.76 139.25,67.11 C139.70,67.47 140.15,67.84 140.59,68.22 C141.03,68.61 141.47,69.01 141.90,69.42 C142.33,69.84 142.75,70.26 143.17,70.71 C143.59,71.15 144.00,71.61 144.41,72.09 C144.82,72.56 145.22,73.05 145.61,73.56 C146.00,74.06 145.93,73.38 146.76,75.12 C147.59,76.86 149.56,80.69 150.60,84.00 C151.64,87.31 152.43,90.25 153.00,95.00 C153.57,99.75 153.83,109.58 154.00,112.50" fill="none" stroke="#2a37a3" stroke-width="2.3" stroke-linejoin="round" stroke-linecap="round" />
<path d="M154.00,112.50 C154.18,109.58 154.55,99.75 155.10,95.00 C155.65,90.25 156.05,87.56 157.30,84.00 C158.55,80.44 161.53,75.57 162.59,73.63 C163.65,71.69 163.28,72.78 163.66,72.33 C164.05,71.89 164.48,71.41 164.90,70.97 C165.32,70.53 165.74,70.11 166.17,69.70 C166.60,69.29 167.03,68.89 167.47,68.51 C167.91,68.13 168.36,67.76 168.81,67.41 C169.26,67.06 169.71,66.72 170.17,66.39 C170.63,66.07 171.09,65.76 171.56,65.46 C172.03,65.17 172.49,64.88 172.97,64.61 C173.44,64.34 173.92,64.09 174.39,63.85 C174.87,63.60 175.35,63.37 175.84,63.16 C176.32,62.94 176.80,62.74 177.29,62.55 C177.78,62.36 178.27,62.18 178.76,62.01 C179.25,61.85 179.74,61.70 180.23,61.56 C180.72,61.41 181.22,61.29 181.71,61.17 C182.20,61.05 182.70,60.95 183.19,60.85 C183.69,60.76 184.18,60.68 184.68,60.61 C185.17,60.54 185.67,60.48 186.16,60.43 C186.66,60.38 187.15,60.34 187.65,60.32 C188.14,60.29 188.64,60.27 189.13,60.27 C189.62,60.26 190.11,60.27 190.60,60.28 C191.09,60.30 191.58,60.32 192.07,60.35 C192.56,60.39 193.05,60.43 193.53,60.48 C194.02,60.54 194.51,60.60 194.99,60.67 C195.47,60.74 195.95,60.82 196.43,60.91 C196.91,61.00 197.39,61.10 197.87,61.20 C198.34,61.31 198.82,61.42 199.29,61.54 C199.76,61.67 200.23,61.80 200.70,61.93 C201.17,62.07 201.63,62.22 202.10,62.37 C202.56,62.52 203.02,62.68 203.48,62.85 C203.94,63.02 204.40,63.19 204.85,63.37 C205.31,63.56 205.76,63.74 206.21,63.94 C206.66,64.13 207.11,64.33 207.56,64.54 C208.00,64.75 208.45,64.96 208.89,65.18 C209.33,65.40 209.77,65.63 210.21,65.86 C210.65,66.09 211.08,66.33 211.51,66.57 C211.95,66.81 212.38,67.06 212.81,67.31 C213.23,67.57 213.66,67.82 214.09,68.09 C214.51,68.35 214.93,68.62 215.35,68.89 C215.77,69.16 216.19,69.44 216.61,69.72 C217.03,70.00 217.44,70.29 217.86,70.58 C218.27,70.87 218.68,71.17 219.09,71.46 C219.50,71.76 219.91,72.07 220.32,72.37 C220.73,72.68 221.13,72.99 221.54,73.31 C221.94,73.62 222.35,73.94 222.75,74.26 C223.15,74.59 223.55,74.91 223.95,75.24 C224.35,75.57 224.74,75.91 225.14,76.25 C225.53,76.59 225.93,76.93 226.32,77.27 C226.71,77.62 227.10,77.97 227.48,78.33 C227.87,78.68 228.25,79.04 228.64,79.41 C229.02,79.77 229.40,80.14 229.77,80.51 C230.15,80.89 230.52,81.27 230.89,81.65 C231.26,82.03 231.63,82.42 231.99,82.81 C232.35,83.20 232.71,83.59 233.07,83.99 C233.43,84.39 233.78,84.80 234.13,85.20 C234.48,85.61 234.82,86.03 235.16,86.44 C235.50,86.86 235.84,87.28 236.17,87.71 C236.50,88.14 236.83,88.57 237.15,89.00 C237.48,89.44 237.79,89.88 238.11,90.32 C238.42,90.77 238.73,91.21 239.03,91.67 C239.33,92.12 239.63,92.58 239.92,93.04 C240.21,93.50 240.50,93.96 240.78,94.43 C241.06,94.90 241.34,95.38 241.60,95.85 C241.87,96.33 242.14,96.81 242.39,97.30 C242.65,97.78 242.90,98.27 243.14,98.76 C243.38,99.25 243.62,99.75 243.85,100.25 C244.08,100.75 244.30,101.25 244.52,101.76 C244.73,102.26 244.94,102.77 245.14,103.29 C245.34,103.80 245.53,104.32 245.72,104.84 C245.90,105.35 246.08,105.88 246.25,106.40 C246.42,106.92 246.58,107.45 246.74,107.98 C246.89,108.51 247.03,109.04 247.17,109.58 C247.31,110.11 247.44,110.65 247.56,111.19 C247.68,111.73 247.79,112.27 247.89,112.81 C247.99,113.35 248.08,113.90 248.17,114.44 C248.25,114.99 248.32,115.54 248.39,116.08 C248.46,116.63 248.51,117.18 248.56,117.73 C248.60,118.28 248.64,118.83 248.67,119.38 C248.69,119.93 248.71,120.49 248.72,121.04 C248.72,121.59 248.72,122.14 248.71,122.69 C248.70,123.25 248.67,123.80 248.64,124.35 C248.61,124.90 248.53,125.72 248.51,126.00" fill="none" stroke="#2a37a3" stroke-width="2.3" stroke-linejoin="round" stroke-linecap="round" />
<path d="M588.00,125.01 C588.05,127.48 588.42,134.06 588.31,139.82 C588.21,145.58 588.10,154.32 587.37,159.59 C586.64,164.86 585.66,167.67 583.93,171.45 C582.20,175.24 579.82,179.36 577.01,182.32 C574.20,185.28 570.90,187.25 567.10,189.21 C563.30,191.17 558.83,192.89 554.21,194.10 C549.58,195.31 544.39,196.01 539.35,196.49 C534.32,196.97 527.36,197.15 524.00,197.00 C520.64,196.85 520.92,196.18 519.20,195.60 C517.48,195.02 515.52,194.50 513.70,193.50 C511.88,192.50 510.10,191.05 508.30,189.60 C506.50,188.15 504.72,186.48 502.90,184.80 C501.08,183.12 498.85,180.60 497.40,179.50 C495.95,178.40 495.27,178.25 494.20,178.20 C493.13,178.15 491.95,178.63 491.00,179.20 C490.05,179.77 489.72,180.40 488.50,181.60 C487.28,182.80 485.40,184.88 483.70,186.40 C482.00,187.92 480.10,189.43 478.30,190.70 C476.50,191.97 474.72,193.15 472.90,194.00 C471.08,194.85 469.22,195.32 467.40,195.80 C465.58,196.28 464.40,196.92 462.00,196.90 C459.60,196.88 456.36,196.32 452.99,195.68 C449.61,195.04 445.60,194.16 441.75,193.06 C437.90,191.96 433.84,190.71 429.90,189.10 C425.96,187.48 421.46,185.68 418.13,183.36 C414.80,181.04 412.22,178.51 409.92,175.18 C407.61,171.86 405.76,167.36 404.30,163.42 C402.84,159.49 401.81,155.52 401.15,151.58 C400.50,147.65 400.58,144.25 400.39,139.82 C400.19,135.39 399.97,129.95 400.00,125.01 C400.03,120.07 400.27,114.60 400.58,110.18 C400.88,105.75 401.15,102.02 401.85,98.46 C402.55,94.90 403.60,91.84 404.80,88.83 C406.01,85.81 407.28,83.12 409.09,80.36 C410.91,77.59 413.19,74.65 415.70,72.24 C418.20,69.82 420.93,67.66 424.13,65.87 C427.33,64.08 431.37,62.80 434.88,61.51 C438.38,60.23 441.68,58.87 445.18,58.14 C448.67,57.42 453.04,57.30 455.85,57.16 C458.65,57.02 460.01,56.96 462.00,57.30 C463.99,57.64 465.87,58.23 467.80,59.20 C469.73,60.17 471.67,61.63 473.60,63.10 C475.53,64.57 477.45,66.13 479.40,68.00 C481.35,69.87 483.35,72.27 485.30,74.30 C487.25,76.33 489.58,78.93 491.10,80.20 C492.62,81.47 493.28,82.00 494.40,81.90 C495.52,81.80 496.27,81.25 497.80,79.60 C499.33,77.95 501.67,74.33 503.60,72.00 C505.53,69.67 507.45,67.33 509.40,65.60 C511.35,63.87 513.35,62.72 515.30,61.60 C517.25,60.48 519.32,59.53 521.10,58.90 C522.88,58.27 524.54,58.09 526.00,57.80 C527.46,57.51 527.09,57.06 529.86,57.17 C532.63,57.27 538.42,57.54 542.62,58.44 C546.83,59.35 551.22,61.08 555.11,62.60 C559.01,64.12 562.71,65.52 566.00,67.56 C569.29,69.60 572.26,71.90 574.85,74.87 C577.44,77.83 579.73,81.42 581.56,85.33 C583.39,89.24 584.88,94.18 585.84,98.32 C586.80,102.45 586.96,105.71 587.32,110.16 C587.68,114.61 587.89,122.53 588.00,125.01" fill="none" stroke="#d91f1f" stroke-width="2.3" stroke-linejoin="round" stroke-linecap="round" />
<path d="M589.20,125.00 C589.25,127.50 589.62,134.17 589.50,140.00 C589.38,145.83 589.25,154.67 588.50,160.00 C587.75,165.33 586.75,168.17 585.00,172.00 C583.25,175.83 580.83,180.00 578.00,183.00 C575.17,186.00 571.83,188.00 568.00,190.00 C564.17,192.00 559.67,193.75 555.00,195.00 C550.33,196.25 545.42,197.13 540.00,197.50 C534.58,197.87 527.22,197.50 522.50,197.20 C517.78,196.90 515.05,196.28 511.70,195.70 C508.35,195.12 505.35,194.30 502.40,193.70 C499.45,193.10 496.90,192.13 494.00,192.10 C491.10,192.07 488.00,192.90 485.00,193.50 C482.00,194.10 478.78,195.08 476.00,195.70 C473.22,196.32 470.88,196.95 468.30,197.20 C465.72,197.45 463.09,197.40 460.50,197.20 C457.91,197.00 455.95,196.66 452.78,196.03 C449.62,195.39 445.37,194.48 441.51,193.38 C437.65,192.27 433.56,191.01 429.61,189.38 C425.66,187.75 421.15,185.93 417.81,183.60 C414.47,181.27 411.89,178.72 409.57,175.39 C407.26,172.05 405.40,167.53 403.94,163.58 C402.47,159.63 401.56,155.62 400.77,151.69 C399.98,147.76 399.53,144.45 399.20,140.00 C398.87,135.55 398.77,130.00 398.80,125.00 C398.83,120.00 399.08,114.46 399.39,109.98 C399.71,105.50 399.98,101.73 400.70,98.12 C401.42,94.52 402.47,91.42 403.69,88.37 C404.92,85.31 406.20,82.59 408.03,79.79 C409.87,76.99 412.11,73.96 414.71,71.56 C417.30,69.17 420.32,67.17 423.60,65.41 C426.88,63.65 430.83,62.25 434.40,61.00 C437.97,59.75 441.45,58.58 445.00,57.90 C448.55,57.22 451.95,57.02 455.70,56.90 C459.45,56.78 463.80,56.85 467.50,57.20 C471.20,57.55 474.72,58.12 477.90,59.00 C481.08,59.88 483.83,61.70 486.60,62.50 C489.37,63.30 491.87,63.80 494.50,63.80 C497.13,63.80 499.63,63.30 502.40,62.50 C505.17,61.70 507.90,59.92 511.10,59.00 C514.30,58.08 518.45,57.35 521.60,57.00 C524.75,56.65 526.47,56.70 530.00,56.90 C533.53,57.10 538.53,57.33 542.80,58.20 C547.07,59.07 551.64,60.61 555.60,62.10 C559.56,63.59 563.17,65.10 566.54,67.12 C569.92,69.14 573.18,71.28 575.87,74.23 C578.55,77.18 580.80,80.87 582.65,84.83 C584.51,88.79 586.02,93.79 586.99,97.98 C587.97,102.16 588.13,105.46 588.50,109.97 C588.87,114.47 589.08,122.49 589.20,125.00" fill="none" stroke="#2a37a3" stroke-width="2.3" stroke-linejoin="round" stroke-linecap="round" />
<rect x="524" y="149.5" width="136" height="108.5" fill="#fff"/>
<circle cx="604.0" cy="205.3" r="10.1" fill="none" stroke="#dcdcdc" stroke-width="0.6" stroke-dasharray="1.2,1.2"/>
<circle cx="604.0" cy="205.3" r="20.2" fill="none" stroke="#9a9a9a" stroke-width="0.8"/>
<circle cx="604.0" cy="205.3" r="30.3" fill="none" stroke="#dcdcdc" stroke-width="0.6" stroke-dasharray="1.2,1.2"/>
<line x1="604.0" y1="205.3" x2="604.00" y2="164.85" stroke="#9a9a9a" stroke-width="0.8"/>
<line x1="604.0" y1="205.3" x2="583.77" y2="170.27" stroke="#9a9a9a" stroke-width="0.8"/>
<line x1="604.0" y1="205.3" x2="568.97" y2="185.08" stroke="#9a9a9a" stroke-width="0.8"/>
<line x1="604.0" y1="205.3" x2="563.55" y2="205.30" stroke="#9a9a9a" stroke-width="0.8"/>
<line x1="604.0" y1="205.3" x2="568.97" y2="225.53" stroke="#9a9a9a" stroke-width="0.8"/>
<line x1="604.0" y1="205.3" x2="583.77" y2="240.33" stroke="#9a9a9a" stroke-width="0.8"/>
<line x1="604.0" y1="205.3" x2="604.00" y2="245.75" stroke="#9a9a9a" stroke-width="0.8"/>
<line x1="604.0" y1="205.3" x2="624.23" y2="240.33" stroke="#9a9a9a" stroke-width="0.8"/>
<line x1="604.0" y1="205.3" x2="639.03" y2="225.53" stroke="#9a9a9a" stroke-width="0.8"/>
<line x1="604.0" y1="205.3" x2="644.45" y2="205.30" stroke="#9a9a9a" stroke-width="0.8"/>
<line x1="604.0" y1="205.3" x2="639.03" y2="185.08" stroke="#9a9a9a" stroke-width="0.8"/>
<line x1="604.0" y1="205.3" x2="624.23" y2="170.27" stroke="#9a9a9a" stroke-width="0.8"/>
<circle cx="604.0" cy="205.3" r="40.45" fill="none" stroke="#333" stroke-width="1"/>
<line x1="554.5" y1="165.3" x2="554.5" y2="246.3" stroke="#333" stroke-width="1"/>
<line x1="551.90" y1="165.30" x2="554.5" y2="165.30" stroke="#333" stroke-width="1"/>
<text x="551.80" y="168.00" font-size="7.9" text-anchor="end" fill="#222" stroke="#222" stroke-width="0.12" font-family="Liberation Serif">-135</text>
<line x1="551.90" y1="185.55" x2="554.5" y2="185.55" stroke="#333" stroke-width="1"/>
<text x="551.80" y="188.25" font-size="7.9" text-anchor="end" fill="#222" stroke="#222" stroke-width="0.12" font-family="Liberation Serif">-150</text>
<line x1="551.90" y1="205.80" x2="554.5" y2="205.80" stroke="#333" stroke-width="1"/>
<text x="551.80" y="208.50" font-size="7.9" text-anchor="end" fill="#222" stroke="#222" stroke-width="0.12" font-family="Liberation Serif">-165</text>
<line x1="551.90" y1="226.05" x2="554.5" y2="226.05" stroke="#333" stroke-width="1"/>
<text x="551.80" y="228.75" font-size="7.9" text-anchor="end" fill="#222" stroke="#222" stroke-width="0.12" font-family="Liberation Serif">-150</text>
<line x1="551.90" y1="246.30" x2="554.5" y2="246.30" stroke="#333" stroke-width="1"/>
<text x="551.80" y="249.00" font-size="7.9" text-anchor="end" fill="#222" stroke="#222" stroke-width="0.12" font-family="Liberation Serif">-135</text>
<text x="603.60" y="161.70" font-size="7.9" text-anchor="middle" fill="#222" stroke="#222" stroke-width="0.12" font-family="Liberation Serif">0</text>
<text x="577.80" y="167.20" font-size="7.9" text-anchor="middle" fill="#222" stroke="#222" stroke-width="0.12" font-family="Liberation Serif">30</text>
<text x="562.00" y="183.20" font-size="7.9" text-anchor="middle" fill="#222" stroke="#222" stroke-width="0.12" font-family="Liberation Serif">60</text>
<text x="557.40" y="208.00" font-size="7.9" text-anchor="middle" fill="#222" stroke="#222" stroke-width="0.12" font-family="Liberation Serif">90</text>
<text x="560.00" y="234.70" font-size="7.9" text-anchor="middle" fill="#222" stroke="#222" stroke-width="0.12" font-family="Liberation Serif">120</text>
<text x="575.60" y="249.90" font-size="7.9" text-anchor="middle" fill="#222" stroke="#222" stroke-width="0.12" font-family="Liberation Serif">150</text>
<text x="603.80" y="255.20" font-size="7.9" text-anchor="middle" fill="#222" stroke="#222" stroke-width="0.12" font-family="Liberation Serif">180</text>
<text x="630.20" y="167.10" font-size="7.9" text-anchor="middle" fill="#222" stroke="#222" stroke-width="0.12" font-family="Liberation Serif">-30</text>
<text x="646.50" y="182.90" font-size="7.9" text-anchor="middle" fill="#222" stroke="#222" stroke-width="0.12" font-family="Liberation Serif">-60</text>
<text x="652.30" y="208.00" font-size="7.9" text-anchor="middle" fill="#222" stroke="#222" stroke-width="0.12" font-family="Liberation Serif">-90</text>
<text x="648.30" y="234.40" font-size="7.9" text-anchor="middle" fill="#222" stroke="#222" stroke-width="0.12" font-family="Liberation Serif">-120</text>
<text x="632.50" y="249.40" font-size="7.9" text-anchor="middle" fill="#222" stroke="#222" stroke-width="0.12" font-family="Liberation Serif">-150</text>
<path d="M604.00,205.30 C604.03,206.63 604.09,210.97 604.17,213.30 C604.24,215.63 604.31,217.80 604.44,219.29 C604.57,220.79 604.74,221.45 604.95,222.27 C605.16,223.09 605.37,223.42 605.72,224.22 C606.07,225.02 606.60,226.14 607.06,227.09 C607.53,228.03 607.95,228.89 608.51,229.89 C609.08,230.88 609.64,232.15 610.46,233.06 C611.28,233.97 612.43,234.80 613.42,235.36 C614.41,235.92 615.38,236.35 616.39,236.43 C617.40,236.50 618.42,236.13 619.47,235.80 C620.52,235.46 622.16,235.19 622.69,234.42 C623.22,233.65 622.72,232.39 622.66,231.17 C622.60,229.96 622.31,228.22 622.32,227.13 C622.33,226.04 622.11,224.88 622.72,224.62 C623.33,224.36 624.96,225.50 625.97,225.58 C626.98,225.65 628.16,225.62 628.77,225.08 C629.39,224.53 629.77,223.30 629.68,222.30 C629.60,221.30 628.96,220.02 628.26,219.08 C627.56,218.14 626.37,217.43 625.48,216.67 C624.58,215.91 623.48,215.08 622.87,214.51 C622.26,213.93 621.51,213.51 621.81,213.23 C622.11,212.95 623.30,212.98 624.67,212.82 C626.05,212.67 628.54,212.57 630.08,212.29 C631.62,212.00 633.09,211.55 633.94,211.12 C634.79,210.69 635.37,210.23 635.19,209.68 C635.02,209.14 633.93,208.35 632.89,207.83 C631.85,207.30 630.62,206.86 628.97,206.52 C627.32,206.18 625.49,205.98 622.99,205.80 C620.50,205.61 617.16,205.51 614.00,205.42 C610.83,205.34 604.00,205.34 604.00,205.30 C604.00,205.26 610.83,205.26 614.00,205.18 C617.16,205.09 620.50,204.99 622.99,204.80 C625.49,204.62 627.32,204.42 628.97,204.08 C630.62,203.74 631.85,203.30 632.89,202.77 C633.93,202.25 635.02,201.46 635.19,200.92 C635.37,200.37 634.79,199.91 633.94,199.48 C633.09,199.05 631.62,198.60 630.08,198.31 C628.54,198.03 626.05,197.93 624.67,197.78 C623.30,197.62 622.11,197.65 621.81,197.37 C621.51,197.09 622.26,196.67 622.87,196.09 C623.48,195.52 624.58,194.69 625.48,193.93 C626.37,193.17 627.56,192.46 628.26,191.52 C628.96,190.58 629.60,189.30 629.68,188.30 C629.77,187.30 629.39,186.07 628.77,185.52 C628.16,184.98 626.98,184.95 625.97,185.02 C624.96,185.10 623.33,186.24 622.72,185.98 C622.11,185.72 622.33,184.56 622.32,183.47 C622.31,182.38 622.60,180.64 622.66,179.43 C622.72,178.21 623.22,176.95 622.69,176.18 C622.16,175.41 620.52,175.14 619.47,174.80 C618.42,174.47 617.40,174.10 616.39,174.17 C615.38,174.25 614.41,174.68 613.42,175.24 C612.43,175.80 611.28,176.63 610.46,177.54 C609.64,178.45 609.08,179.72 608.51,180.71 C607.95,181.71 607.53,182.57 607.06,183.51 C606.60,184.46 606.07,185.58 605.72,186.38 C605.37,187.18 605.16,187.51 604.95,188.33 C604.74,189.15 604.57,189.81 604.44,191.31 C604.31,192.80 604.24,194.97 604.17,197.30 C604.09,199.63 604.06,205.30 604.00,205.30 C603.94,205.30 603.91,199.63 603.83,197.30 C603.76,194.97 603.69,192.80 603.56,191.31 C603.43,189.81 603.26,189.15 603.05,188.33 C602.84,187.51 602.63,187.18 602.28,186.38 C601.93,185.58 601.40,184.46 600.94,183.51 C600.47,182.57 600.05,181.71 599.49,180.71 C598.92,179.72 598.36,178.45 597.54,177.54 C596.72,176.63 595.57,175.80 594.58,175.24 C593.59,174.68 592.62,174.25 591.61,174.17 C590.60,174.10 589.58,174.47 588.53,174.80 C587.48,175.14 585.84,175.41 585.31,176.18 C584.78,176.95 585.28,178.21 585.34,179.43 C585.40,180.64 585.69,182.38 585.68,183.47 C585.67,184.56 585.89,185.72 585.28,185.98 C584.67,186.24 583.04,185.10 582.03,185.02 C581.02,184.95 579.84,184.98 579.23,185.52 C578.61,186.07 578.23,187.30 578.32,188.30 C578.40,189.30 579.04,190.58 579.74,191.52 C580.44,192.46 581.63,193.17 582.52,193.93 C583.42,194.69 584.52,195.52 585.13,196.09 C585.74,196.67 586.49,197.09 586.19,197.37 C585.89,197.65 584.70,197.62 583.33,197.78 C581.95,197.93 579.46,198.03 577.92,198.31 C576.38,198.60 574.91,199.05 574.06,199.48 C573.21,199.91 572.63,200.37 572.81,200.92 C572.98,201.46 574.07,202.25 575.11,202.77 C576.15,203.30 577.38,203.74 579.03,204.08 C580.68,204.42 582.51,204.62 585.01,204.80 C587.50,204.99 590.84,205.09 594.00,205.18 C597.17,205.26 604.00,205.26 604.00,205.30 C604.00,205.34 597.17,205.34 594.00,205.42 C590.84,205.51 587.50,205.61 585.01,205.80 C582.51,205.98 580.68,206.18 579.03,206.52 C577.38,206.86 576.15,207.30 575.11,207.83 C574.07,208.35 572.98,209.14 572.81,209.68 C572.63,210.23 573.21,210.69 574.06,211.12 C574.91,211.55 576.38,212.00 577.92,212.29 C579.46,212.57 581.95,212.67 583.33,212.82 C584.70,212.98 585.89,212.95 586.19,213.23 C586.49,213.51 585.74,213.93 585.13,214.51 C584.52,215.08 583.42,215.91 582.52,216.67 C581.63,217.43 580.44,218.14 579.74,219.08 C579.04,220.02 578.40,221.30 578.32,222.30 C578.23,223.30 578.61,224.53 579.23,225.08 C579.84,225.62 581.02,225.65 582.03,225.58 C583.04,225.50 584.67,224.36 585.28,224.62 C585.89,224.88 585.67,226.04 585.68,227.13 C585.69,228.22 585.40,229.96 585.34,231.17 C585.28,232.39 584.78,233.65 585.31,234.42 C585.84,235.19 587.48,235.46 588.53,235.80 C589.58,236.13 590.60,236.50 591.61,236.43 C592.62,236.35 593.59,235.92 594.58,235.36 C595.57,234.80 596.72,233.97 597.54,233.06 C598.36,232.15 598.92,230.88 599.49,229.89 C600.05,228.89 600.47,228.03 600.94,227.09 C601.40,226.14 601.93,225.02 602.28,224.22 C602.63,223.42 602.84,223.09 603.05,222.27 C603.26,221.45 603.43,220.79 603.56,219.29 C603.69,217.80 603.76,215.63 603.83,213.30 C603.91,210.97 603.97,206.63 604.00,205.30" fill="none" stroke="#d91f1f" stroke-width="1.8" stroke-dasharray="1.8,1.7" stroke-dashoffset="1.75"/>
<path d="M604.00,205.30 C604.02,206.63 604.08,210.97 604.14,213.30 C604.20,215.63 604.24,217.72 604.37,219.30 C604.50,220.87 604.69,221.84 604.92,222.78 C605.14,223.71 605.34,224.07 605.72,224.93 C606.09,225.78 606.68,226.89 607.17,227.88 C607.67,228.87 608.11,229.85 608.69,230.87 C609.28,231.90 609.84,233.09 610.69,234.03 C611.53,234.97 612.75,235.92 613.78,236.50 C614.80,237.09 615.82,237.54 616.83,237.54 C617.84,237.54 618.93,237.11 619.84,236.51 C620.74,235.92 621.52,234.68 622.27,233.98 C623.02,233.27 623.25,232.61 624.34,232.29 C625.43,231.98 627.59,232.20 628.80,232.08 C630.01,231.96 630.74,232.19 631.59,231.57 C632.44,230.96 633.62,229.50 633.91,228.42 C634.20,227.34 633.66,226.17 633.35,225.10 C633.04,224.02 632.63,222.87 632.03,221.94 C631.43,221.01 630.60,220.30 629.74,219.51 C628.88,218.72 627.88,217.97 626.88,217.21 C625.89,216.45 624.39,215.51 623.77,214.94 C623.16,214.38 622.59,213.96 623.18,213.84 C623.78,213.73 625.86,214.16 627.34,214.26 C628.82,214.35 630.77,214.62 632.06,214.42 C633.34,214.21 634.47,213.63 635.05,213.04 C635.63,212.45 635.64,211.53 635.51,210.86 C635.38,210.19 634.87,209.62 634.27,209.02 C633.68,208.42 632.98,207.72 631.93,207.25 C630.88,206.79 629.80,206.49 627.98,206.22 C626.16,205.96 623.49,205.79 621.00,205.66 C618.50,205.52 615.83,205.45 613.00,205.39 C610.17,205.33 604.00,205.33 604.00,205.30 C604.00,205.27 610.17,205.27 613.00,205.21 C615.83,205.15 618.50,205.08 621.00,204.94 C623.49,204.81 626.16,204.64 627.98,204.38 C629.80,204.11 630.88,203.81 631.93,203.35 C632.98,202.88 633.68,202.18 634.27,201.58 C634.87,200.98 635.38,200.41 635.51,199.74 C635.64,199.07 635.63,198.15 635.05,197.56 C634.47,196.97 633.34,196.39 632.06,196.18 C630.77,195.98 628.82,196.25 627.34,196.34 C625.86,196.44 623.78,196.87 623.18,196.76 C622.59,196.64 623.16,196.22 623.77,195.66 C624.39,195.09 625.89,194.15 626.88,193.39 C627.88,192.63 628.88,191.88 629.74,191.09 C630.60,190.30 631.43,189.59 632.03,188.66 C632.63,187.73 633.04,186.58 633.35,185.50 C633.66,184.43 634.20,183.26 633.91,182.18 C633.62,181.10 632.44,179.64 631.59,179.03 C630.74,178.41 630.01,178.64 628.80,178.52 C627.59,178.40 625.43,178.62 624.34,178.31 C623.25,177.99 623.02,177.33 622.27,176.62 C621.52,175.92 620.74,174.68 619.84,174.09 C618.93,173.49 617.84,173.06 616.83,173.06 C615.82,173.06 614.80,173.51 613.78,174.10 C612.75,174.68 611.53,175.63 610.69,176.57 C609.84,177.51 609.28,178.70 608.69,179.73 C608.11,180.75 607.67,181.73 607.17,182.72 C606.68,183.71 606.09,184.82 605.72,185.67 C605.34,186.53 605.14,186.89 604.92,187.82 C604.69,188.76 604.50,189.73 604.37,191.30 C604.24,192.88 604.20,194.97 604.14,197.30 C604.08,199.63 604.05,205.30 604.00,205.30 C603.95,205.30 603.92,199.63 603.86,197.30 C603.80,194.97 603.76,192.88 603.63,191.30 C603.50,189.73 603.31,188.76 603.08,187.82 C602.86,186.89 602.66,186.53 602.28,185.67 C601.91,184.82 601.32,183.71 600.83,182.72 C600.33,181.73 599.89,180.75 599.31,179.73 C598.72,178.70 598.16,177.51 597.31,176.57 C596.47,175.63 595.25,174.68 594.22,174.10 C593.20,173.51 592.18,173.06 591.17,173.06 C590.16,173.06 589.07,173.49 588.16,174.09 C587.26,174.68 586.48,175.92 585.73,176.62 C584.98,177.33 584.75,177.99 583.66,178.31 C582.57,178.62 580.41,178.40 579.20,178.52 C577.99,178.64 577.26,178.41 576.41,179.03 C575.56,179.64 574.38,181.10 574.09,182.18 C573.80,183.26 574.34,184.43 574.65,185.50 C574.96,186.58 575.37,187.73 575.97,188.66 C576.57,189.59 577.40,190.30 578.26,191.09 C579.12,191.88 580.12,192.63 581.12,193.39 C582.11,194.15 583.61,195.09 584.23,195.66 C584.84,196.22 585.41,196.64 584.82,196.76 C584.22,196.87 582.14,196.44 580.66,196.34 C579.18,196.25 577.23,195.98 575.94,196.18 C574.66,196.39 573.53,196.97 572.95,197.56 C572.37,198.15 572.36,199.07 572.49,199.74 C572.62,200.41 573.13,200.98 573.73,201.58 C574.32,202.18 575.02,202.88 576.07,203.35 C577.12,203.81 578.20,204.11 580.02,204.38 C581.84,204.64 584.51,204.81 587.00,204.94 C589.50,205.08 592.17,205.15 595.00,205.21 C597.83,205.27 604.00,205.27 604.00,205.30 C604.00,205.33 597.83,205.33 595.00,205.39 C592.17,205.45 589.50,205.52 587.00,205.66 C584.51,205.79 581.84,205.96 580.02,206.22 C578.20,206.49 577.12,206.79 576.07,207.25 C575.02,207.72 574.32,208.42 573.73,209.02 C573.13,209.62 572.62,210.19 572.49,210.86 C572.36,211.53 572.37,212.45 572.95,213.04 C573.53,213.63 574.66,214.21 575.94,214.42 C577.23,214.62 579.18,214.35 580.66,214.26 C582.14,214.16 584.22,213.73 584.82,213.84 C585.41,213.96 584.84,214.38 584.23,214.94 C583.61,215.51 582.11,216.45 581.12,217.21 C580.12,217.97 579.12,218.72 578.26,219.51 C577.40,220.30 576.57,221.01 575.97,221.94 C575.37,222.87 574.96,224.02 574.65,225.10 C574.34,226.17 573.80,227.34 574.09,228.42 C574.38,229.50 575.56,230.96 576.41,231.57 C577.26,232.19 577.99,231.96 579.20,232.08 C580.41,232.20 582.57,231.98 583.66,232.29 C584.75,232.61 584.98,233.27 585.73,233.98 C586.48,234.68 587.26,235.92 588.16,236.51 C589.07,237.11 590.16,237.54 591.17,237.54 C592.18,237.54 593.20,237.09 594.22,236.50 C595.25,235.92 596.47,234.97 597.31,234.03 C598.16,233.09 598.72,231.90 599.31,230.87 C599.89,229.85 600.33,228.87 600.83,227.88 C601.32,226.89 601.91,225.78 602.28,224.93 C602.66,224.07 602.86,223.71 603.08,222.78 C603.31,221.84 603.50,220.87 603.63,219.30 C603.76,217.72 603.80,215.63 603.86,213.30 C603.92,210.97 603.98,206.63 604.00,205.30" fill="none" stroke="#2a37a3" stroke-width="1.8" stroke-dasharray="1.8,1.7" stroke-dashoffset="0"/>
<rect x="229.50" y="3.30" width="76" height="50" fill="#fff" stroke="#444" stroke-width="1"/>
<line x1="230.50" y1="10.20" x2="253.00" y2="10.20" stroke="#d91f1f" stroke-width="2" stroke-dasharray="2,1.6"/>
<text transform="translate(255.30,13.70) scale(1,0.9)" font-size="9.7" fill="#111" stroke="#111" stroke-width="0.3" font-family="Liberation Serif">5.6G, H pol.</text>
<line x1="230.00" y1="22.50" x2="253.50" y2="22.50" stroke="#d91f1f" stroke-width="2"/>
<text transform="translate(255.30,26.00) scale(1,0.9)" font-size="9.7" fill="#111" stroke="#111" stroke-width="0.3" font-family="Liberation Serif">5.6G, V pol.</text>
<line x1="230.50" y1="34.80" x2="253.00" y2="34.80" stroke="#2a37a3" stroke-width="2" stroke-dasharray="2,1.6"/>
<text transform="translate(255.30,38.30) scale(1,0.9)" font-size="9.7" fill="#111" stroke="#111" stroke-width="0.3" font-family="Liberation Serif">5.8G, H pol.</text>
<line x1="230.00" y1="47.10" x2="253.50" y2="47.10" stroke="#2a37a3" stroke-width="2"/>
<text transform="translate(255.30,50.60) scale(1,0.9)" font-size="9.7" fill="#111" stroke="#111" stroke-width="0.3" font-family="Liberation Serif">5.8G, V pol.</text>
<rect x="569.50" y="3.30" width="76" height="50" fill="#fff" stroke="#444" stroke-width="1"/>
<line x1="570.50" y1="10.20" x2="593.00" y2="10.20" stroke="#d91f1f" stroke-width="2" stroke-dasharray="2,1.6"/>
<text transform="translate(595.30,13.70) scale(1,0.9)" font-size="9.7" fill="#111" stroke="#111" stroke-width="0.3" font-family="Liberation Serif">5.6G, H pol.</text>
<line x1="570.00" y1="22.50" x2="593.50" y2="22.50" stroke="#d91f1f" stroke-width="2"/>
<text transform="translate(595.30,26.00) scale(1,0.9)" font-size="9.7" fill="#111" stroke="#111" stroke-width="0.3" font-family="Liberation Serif">5.6G, V pol.</text>
<line x1="570.50" y1="34.80" x2="593.00" y2="34.80" stroke="#2a37a3" stroke-width="2" stroke-dasharray="2,1.6"/>
<text transform="translate(595.30,38.30) scale(1,0.9)" font-size="9.7" fill="#111" stroke="#111" stroke-width="0.3" font-family="Liberation Serif">5.8G, H pol.</text>
<line x1="570.00" y1="47.10" x2="593.50" y2="47.10" stroke="#2a37a3" stroke-width="2"/>
<text transform="translate(595.30,50.60) scale(1,0.9)" font-size="9.7" fill="#111" stroke="#111" stroke-width="0.3" font-family="Liberation Serif">5.8G, V pol.</text>
</svg></body></html>
